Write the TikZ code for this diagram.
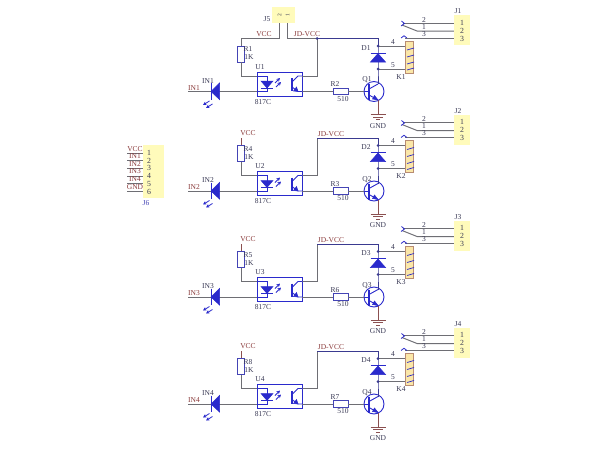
\documentclass[tikz,border=0pt]{standalone}
\usepackage{fontspec}
\setmainfont{Liberation Serif}
\usetikzlibrary{arrows.meta,calc}
\definecolor{wirec}{HTML}{6E6E74}
\definecolor{symb}{HTML}{2A2ACC}
\definecolor{netc}{HTML}{8A3A3A}
\definecolor{desc}{HTML}{3A3A55}
\definecolor{yel}{HTML}{FFFBBB}
\definecolor{coilf}{HTML}{FBE7A8}
\definecolor{bro}{HTML}{8B5050}
\definecolor{navyc}{HTML}{3A3A90}
\tikzset{
 wire/.style={draw=wirec,line width=1pt},
 navy/.style={draw=navyc,line width=0.9pt},
 gwire/.style={draw=bro,line width=0.9pt},
 sym/.style={draw=symb,line width=0.9pt},
 symf/.style={draw=symb,fill=symb,line width=0.5pt},
 resbox/.style={draw=symb!70!gray,fill=white,line width=0.9pt,inner sep=0pt},
 ubox/.style={draw=symb,line width=0.9pt,inner sep=0pt,minimum width=45pt,minimum height=24pt},
 hdr/.style={fill=yel,inner sep=0pt},
 coilbox/.style={draw=bro!60!coilf,fill=coilf,line width=0.8pt,inner sep=0pt,minimum width=8pt,minimum height=32pt},
 lab/.style={font=\fontsize{7.5}{8}\selectfont,text=desc,inner sep=0pt},
 pinn/.style={font=\fontsize{7.8}{8}\selectfont,text=desc,inner sep=0pt},
 net/.style={font=\fontsize{7.5}{8}\selectfont,text=netc,inner sep=0pt},
 jun/.style={circle,fill=navyc,inner sep=0pt,minimum size=3pt},
 ledarrow/.style={-{Stealth[length=3.5pt,width=3.5pt]},draw=symb,line width=0.8pt},
}
% #1 channel, #2 y offset, #3 Rup, #4 Rbase, #5 U, #6 D, #7 Q, #8 K, #9 J
\newcommand{\chan}[9]{%
\begin{scope}[yshift=-#2pt]
 \coordinate (v#1) at (317,38.5);
 \coordinate (a#1) at (378,46);
 \coordinate (b#1) at (378,69);
 \coordinate (w#1) at (188,91.5);
 \node[resbox,minimum width=6.5pt,minimum height=16pt] (Rv#1) at (241,54) {};
 \node[ubox] (U#1) at (279.5,84) {};
 \node[resbox,minimum width=15pt,minimum height=6.5pt] (Rb#1) at (340.5,91.5) {};
 \node[draw=symb,line width=0.9pt,circle,minimum size=20pt,inner sep=0pt] (Q#1) at (374,91.5) {};
 \node[coilbox] (K#1) at (409,57) {};
 \node[hdr,minimum width=16pt,minimum height=30pt] (J#1) at (462,30) {};
 \path[wire] (w#1) -- (U#1.west |- w#1);
 \path[wire] (U#1.east |- w#1) -- (Rb#1.west);
 \path[wire] (Rb#1.east) -- (364,91.5);
 \path[wire] (Rv#1.south) |- (U#1.west |- 0,76);
 \path[wire] (v#1) |- (U#1.east |- 0,76);
 \path[navy] (v#1) -- (378,38.5) -- (a#1);
 \path[wire] (a#1) -- (K#1.west |- a#1);
 \path[wire] (b#1) -- (K#1.west |- b#1);
 \path[navy] (a#1) -- (b#1) -- (378,84);
 \path[gwire] (378,100) -- (378,114);
 \path[gwire] (370.5,114.5) -- (386,114.5) (373,117) -- (383,117) (376,119.5) -- (380,119.5);
 \node[jun] at (a#1) {};
 \node[jun] at (b#1) {};
 % IN LED
 \path[symf] (211,91.5) -- (219.5,83) -- (219.5,99.5) -- cycle;
 \path[sym] (211,83) -- (211,99.5);
 \path[ledarrow] (209.5,101) -- (203,105);
 \path[ledarrow] (212.5,104) -- (206,108);
 % opto inner
 \path[sym] (U#1.west |- 0,76) -- (267,76) -- (267,91.5) -- (U#1.west |- 0,91.5);
 \path[symf] (261,81) -- (273,81) -- (267,88) -- cycle;
 \path[sym] (261,88) -- (273,88);
 \path[ledarrow] (275,83) -- (280,78);
 \path[ledarrow] (276,87) -- (281,82);
 \path[sym,line width=1.2pt] (292,78) -- (292,91);
 \path[sym] (292,82) -- (298,76) -- (U#1.east |- 0,76);
 \path[sym] (292,87) -- (298,91.5) -- (U#1.east |- 0,91.5);
 \path[symf] (298,91.5) -- (293.5,91) -- (296.5,87) -- cycle;
 % D
 \path[symf] (378,53.5) -- (370.5,62) -- (385.5,62) -- cycle;
 \path[sym] (370.5,53) -- (386,53);
 % transistor
 \path[sym] (364,91.5) -- (369,91.5);
 \path[draw=symb,line width=1.7pt] (369,84) -- (369,100);
 \path[sym] (369,89) -- (378,84);
 \path[sym] (369,95) -- (378,100);
 \path[symf] (378,100) -- (372.5,99) -- (374.5,95.5) -- cycle;
 % coil marks
 \path[sym,line width=0.7pt] (407,50) -- (414,48) (407,57) -- (414,55) (407,64) -- (414,62) (407,70) -- (414,68);
 % contacts
 \path[wire] (J#1.west |- 0,23) -- (403,23);
 \path[wire] (J#1.west |- 0,31) -- (417,31) -- (402,25);
 \path[wire] (J#1.west |- 0,38) -- (405,38);
 \path[sym,line width=0.8pt] (401.5,21) -- (404.5,23.5) -- (401,26);
 \path[sym,line width=0.8pt] (401,38) -- (404,35.8) -- (407,38);
 % labels
 \node[net] (IN#1w) at (194,88) {IN#1};
 \node[lab] (IN#1d) at (208,81) {IN#1};
 \node[lab] (Rl#1) at (248,49.5) {R#3};
 \node[lab] (Rk#1) at (249,57.5) {1K};
 \node[lab] (Ul#1) at (260,67) {U#5};
 \node[lab] (Un#1) at (263,102) {817C};
 \node[lab] (Rbl#1) at (335,84.5) {R#4};
 \node[lab] (Rbv#1) at (343,99) {510};
 \node[lab] (Dl#1) at (366,48) {D#6};
 \node[lab] (Ql#1) at (367,80) {Q#7};
 \node[lab] (G#1) at (378,126) {GND};
 \node[lab] (p4#1) at (393,42) {4};
 \node[lab] (p5#1) at (393,65) {5};
 \node[lab] (Kl#1) at (401,77) {K#8};
 \node[lab] (c2#1) at (424,20) {2};
 \node[lab] (c1#1) at (424,27) {1};
 \node[lab] (c3#1) at (424,34) {3};
 \node[pinn] (n1#1) at (462,22.5) {1};
 \node[pinn] (n2#1) at (462,30.5) {2};
 \node[pinn] (n3#1) at (462,38.5) {3};
 \node[lab] (Jl#1) at (458,11.5) {J#9};
\end{scope}}
\newcommand{\vccstub}[2]{%
\begin{scope}[yshift=-#2pt]
 \coordinate (t#1) at (241,38.5);
 \path[gwire] (t#1) -- (Rv#1.north);
 \node[net] (vc#1) at (248,34) {VCC};
 \node[net] (jd#1) at (331,34.5) {JD-VCC};
\end{scope}}
\begin{document}
\begin{tikzpicture}[x=1pt,y=-1pt]
\useasboundingbox[fill=white] (0,0) rectangle (600,450);
\chan{1}{0}{1}{2}{1}{1}{1}{1}{1}
\chan{2}{99.5}{4}{3}{2}{2}{2}{2}{2}
\chan{3}{205.5}{5}{6}{3}{3}{3}{3}{3}
\chan{4}{312.5}{8}{7}{4}{4}{4}{4}{4}
\vccstub{2}{99.5}
\vccstub{3}{205.5}
\vccstub{4}{312.5}
% J5
\node[hdr,minimum width=23pt,minimum height=16pt] (J5) at (283.5,15) {};
\node[lab,rotate=90,font=\fontsize{5.5}{6}\selectfont] (J5a) at (279.5,15) {2};
\node[lab,rotate=90,font=\fontsize{5.5}{6}\selectfont] (J5b) at (287.5,15) {1};
\node[lab] (J5l) at (267,19) {J5};
\coordinate (J5c) at (241,38.5);
\path[wire] (J5.south -| J5a) |- (J5c) -- (Rv1.north);
\path[wire] (J5.south -| J5b) |- (v1);
\node[jun] at (v1) {};
\node[net] (vc1) at (264,34) {VCC};
\node[net] (jd1) at (307,34) {JD-VCC};
% J6
\node[hdr,minimum width=21pt,minimum height=53pt] (J6) at (153.5,171.5) {};
\foreach \i/\y/\ly/\t in {1/153/149/VCC,2/160.7/156.5/IN1,3/168.4/164/IN2,4/176.1/171.5/IN3,5/183.8/179/IN4,6/191.5/187/GND}{
 \node[pinn] (j6n\i) at (149,\y) {\i};
 \coordinate (j6w\i) at (127,\y);
 \path[wire] (j6w\i) -- (J6.west |- j6w\i);
 \node[net] (j6t\i) at (135,\ly) {\t};
}
\node[lab,text=symb!70!gray] (J6l) at (146,203) {J6};
\end{tikzpicture}
\end{document}
